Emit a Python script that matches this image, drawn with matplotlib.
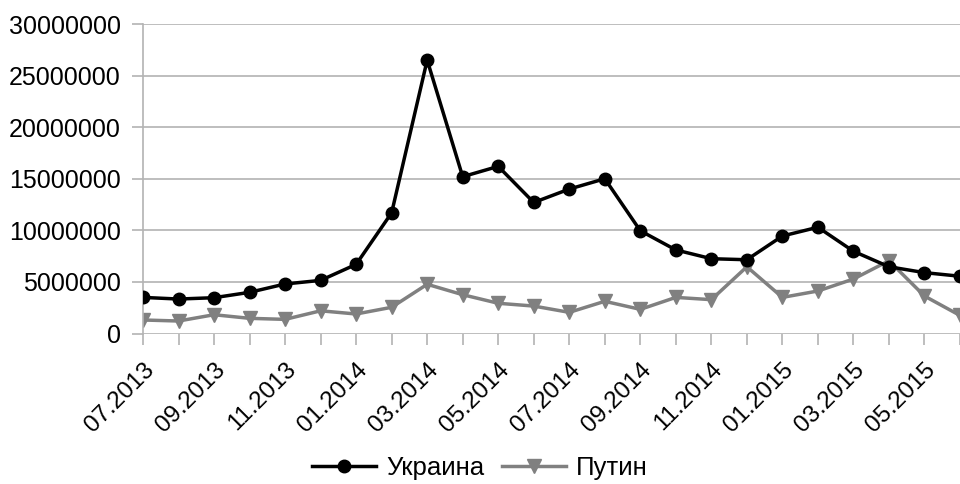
import matplotlib
matplotlib.use("Agg")
import matplotlib.pyplot as plt

# Monthly values, 07.2013 - 06.2015 (last month is cut off at the right edge)
months = ['07.2013', '08.2013', '09.2013', '10.2013', '11.2013', '12.2013',
          '01.2014', '02.2014', '03.2014', '04.2014', '05.2014', '06.2014',
          '07.2014', '08.2014', '09.2014', '10.2014', '11.2014', '12.2014',
          '01.2015', '02.2015', '03.2015', '04.2015', '05.2015', '06.2015']

ukraina = [3500000, 3340000, 3470000, 3990000, 4800000, 5150000,
           6700000, 11700000, 26500000, 15200000, 16200000, 12700000,
           14000000, 15000000, 9960000, 8100000, 7250000, 7150000,
           9450000, 10300000, 7970000, 6470000, 5900000, 5550000]

putin = [1310000, 1210000, 1820000, 1470000, 1370000, 2200000,
         1890000, 2540000, 4770000, 3760000, 2930000, 2660000,
         2050000, 3120000, 2340000, 3500000, 3280000, 6470000,
         3500000, 4120000, 5280000, 7050000, 3630000, 1750000]

plt.rcParams['font.family'] = ['Liberation Sans', 'DejaVu Sans']

fig = plt.figure(figsize=(9.6, 4.84), dpi=100)
ax = fig.add_axes([143 / 960, 1 - 333.5 / 484, 1 - 143 / 960, (333.5 - 24) / 484])

x = list(range(len(months)))
ax.plot(x, ukraina, color='black', lw=2.5, marker='o', ms=9, label='Украина', zorder=3)
ax.plot(x, putin, color='#808080', lw=2.5, marker='v', ms=9.5, label='Путин', zorder=2)

ax.set_xlim(0, (960 - 143) / 36)
ax.set_ylim(0, 30000000)
ax.set_yticks(range(0, 30000001, 5000000))
ax.set_yticklabels([str(v) for v in range(0, 30000001, 5000000)], fontsize=18)
ax.set_xticks(x)
ax.set_xticklabels([m if i % 2 == 0 else '' for i, m in enumerate(months)],
                   rotation=45, ha='right', va='top', rotation_mode='anchor', fontsize=17.5)

ax.grid(axis='y', color='#b3b3b3', lw=1.2)
ax.set_axisbelow(True)
for s in ['top', 'right', 'bottom']:
    ax.spines[s].set_visible(False)
ax.spines['left'].set_color('#b3b3b3')
ax.spines['left'].set_linewidth(1.2)
ax.tick_params(axis='both', color='#b3b3b3', width=1.2, length=8, labelcolor='black')
ax.tick_params(axis='y', pad=8)
ax.tick_params(axis='x', pad=10)

fig.legend(loc='center', bbox_to_anchor=(0.5, 1 - 468 / 484), ncol=2, frameon=False,
           fontsize=18.5, handlelength=2.5, columnspacing=0.65, handletextpad=0.4)

fig.savefig('out.png', dpi=100)
